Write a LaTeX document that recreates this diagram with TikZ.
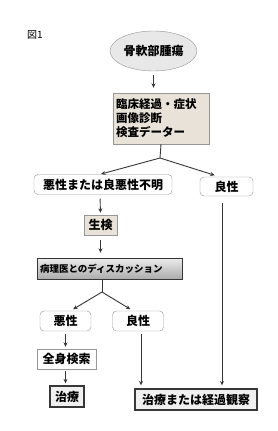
\documentclass[tikz,border=0pt]{standalone}
\usepackage{fontspec}
\newfontfamily\cjk{Noto Sans CJK JP}
\usepackage{tikz}
\usetikzlibrary{shapes.geometric,arrows.meta,positioning,calc}
\definecolor{beige}{RGB}{232,226,216}
\definecolor{edge}{RGB}{150,150,150}
\definecolor{ink}{RGB}{55,55,55}
\tikzset{
  tum/.style={draw=edge,fill=gray!18,ellipse,minimum width=87pt,minimum height=40pt,inner sep=0pt,font=\cjk\bfseries\fontsize{12}{14}\selectfont},
  info/.style={draw=edge,fill=beige,align=left,text width=90pt,minimum height=51pt,inner sep=3pt,font=\cjk\bfseries\fontsize{11.5}{14}\selectfont},
  rbox/.style={draw=edge,fill=white,rounded corners=4pt,minimum height=20pt,inner sep=2pt,font=\cjk\bfseries\fontsize{12}{14}\selectfont},
  sbox/.style={draw=edge,fill=white,minimum height=20pt,inner sep=2pt,font=\cjk\bfseries\fontsize{12}{14}\selectfont},
  bx/.style={draw=edge,fill=beige,minimum height=20pt,inner sep=2pt,font=\cjk\bfseries\fontsize{12}{14}\selectfont},
  bar/.style={draw=ink,top color=gray!15,bottom color=gray!65,minimum width=145pt,minimum height=21pt,text width=139pt,align=left,inner sep=3pt,font=\cjk\bfseries\fontsize{9.5}{11}\selectfont},
  fin/.style={draw=ink,line width=1.3pt,fill=gray!12,minimum height=21pt,inner sep=3pt,font=\cjk\bfseries\fontsize{12}{14}\selectfont},
  arr/.style={-{Stealth[length=4.5pt,width=4pt]},draw=ink,line width=0.9pt},
  ln/.style={draw=ink,line width=0.9pt}
}
\begin{document}
\begin{tikzpicture}[x=1pt,y=-1pt]
\useasboundingbox (0,0) rectangle (278,431);
\node[font=\cjk\fontsize{10}{12}\selectfont] (fig) at (35,35) {図1};
\node[tum] (tumor) at (153.5,51) {骨軟部腫瘍};
\node[info] (clin) at (161,118.5) {臨床経過・症状\\画像診断\\検査データー};
\coordinate (split1) at (160,158);
\node[rbox,minimum width=138pt] (malunk) at (103,184.5) {悪性または良悪性不明};
\node[rbox,minimum width=53pt,minimum height=19pt] (benR) at (226.5,186.5) {良性};
\node[bx,minimum width=33pt] (biopsy) at (100.5,225) {生検};
\node[bar] (discuss) at (109.5,268.5) {病理医とのディスカッション};
\coordinate (split2) at (102,292);
\node[rbox,minimum width=51pt] (mal) at (65.5,321) {悪性};
\node[rbox,minimum width=51pt] (benM) at (138,321) {良性};
\node[sbox,minimum width=59pt] (search) at (66.5,359) {全身検索};
\node[fin,minimum width=34pt] (treat) at (67,396.5) {治療};
\node[fin,minimum width=122pt] (obs) at (196,399.5) {治療または経過観察};

\draw[arr,shorten <=4pt,shorten >=5pt] (tumor.south) -- (clin.north -| tumor.south);
\draw[ln] (clin.south) -- (split1);
\draw[arr,shorten >=1pt] (split1) -- ([xshift=-3pt]malunk.north);
\draw[arr,shorten >=5pt] (split1) -- ([xshift=-7pt]benR.north);
\draw[arr,shorten <=4pt,shorten >=2pt] ([xshift=-3pt]malunk.south) -- (biopsy.north);
\draw[arr,shorten <=5pt,shorten >=5pt] (biopsy.south) -- (biopsy.south |- discuss.north);
\draw[ln] (split2 |- discuss.south) -- (split2);
\draw[arr,shorten >=3pt] (split2) -- ([xshift=5pt]mal.north);
\draw[arr,shorten >=3pt] (split2) -- ([xshift=-5pt]benM.north);
\draw[arr,shorten <=3pt,shorten >=2pt] (mal.south) -- (mal.south |- search.north);
\draw[arr,shorten <=2pt,shorten >=2pt] (search.south -| mal.south) -- (mal.south |- treat.north);
\draw[arr,shorten <=3pt,shorten >=3pt] ([xshift=3pt]benM.south) -- ([xshift=3pt]benM.south |- obs.north);
\draw[arr,shorten <=7pt,shorten >=3pt] ([xshift=-4.5pt]benR.south) -- ([xshift=-4.5pt]benR.south |- obs.north);
\end{tikzpicture}
\end{document}
